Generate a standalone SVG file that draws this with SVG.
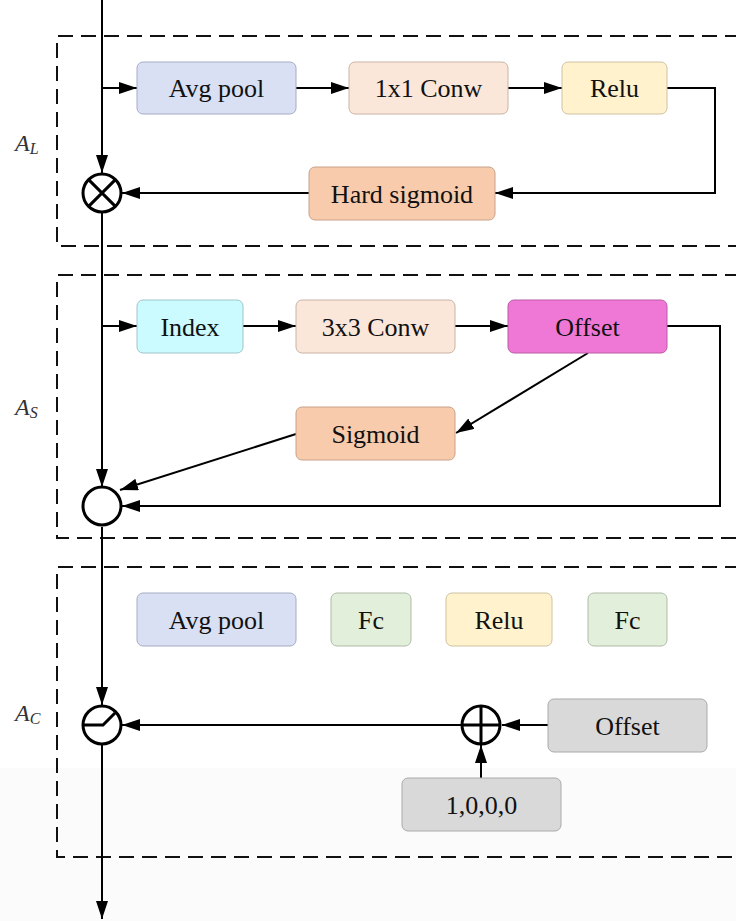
<svg xmlns="http://www.w3.org/2000/svg" width="736" height="921" viewBox="0 0 736 921">
  <defs>
    <marker id="arrow" viewBox="0 0 18 12" refX="18" refY="6" markerWidth="18" markerHeight="12" markerUnits="userSpaceOnUse" orient="auto">
      <path d="M0,0 L18,6 L0,12 Z" fill="#000"/>
    </marker>
    <style>
      .frame { fill: none; stroke: #111; stroke-width: 2; stroke-dasharray: 15 8; }
      .box { stroke-width: 1; }
      .lbl { font-family: "Liberation Serif", "Times New Roman", serif; font-size: 26px; fill: #111; text-anchor: middle; }
      .sec { font-family: "Liberation Serif", "Times New Roman", serif; font-style: italic; fill: #333; }
      .wire { fill: none; stroke: #000; stroke-width: 2; }
      .op { fill: #fff; stroke: #000; stroke-width: 3; }
      .sym { fill: none; stroke: #000; stroke-width: 3; }
    </style>
  </defs>

  <rect x="0" y="0" width="736" height="921" fill="#fff"/>
  <rect x="0" y="768" width="736" height="153" fill="#fbfbfb"/>

  <!-- section frames -->
  <g id="frames">
    <path class="frame" d="M740,36 H57 V246 H740"/>
    <path class="frame" d="M740,275 H57 V538 H740"/>
    <path class="frame" d="M740,567 H57 V857 H740"/>
  </g>

  <!-- section labels -->
  <g id="labels">
    <text class="sec" x="15" y="151" font-size="24">A<tspan font-size="16" dy="3">L</tspan></text>
    <text class="sec" x="15" y="415" font-size="24">A<tspan font-size="16" dy="3">S</tspan></text>
    <text class="sec" x="15" y="721" font-size="24">A<tspan font-size="16" dy="3">C</tspan></text>
  </g>

  <!-- connectors -->
  <g id="connectors">
    <!-- main trunk -->
    <line class="wire" x1="102" y1="0" x2="102" y2="173" marker-end="url(#arrow)"/>
    <line class="wire" x1="102" y1="213" x2="102" y2="487" marker-end="url(#arrow)"/>
    <line class="wire" x1="102" y1="527" x2="102" y2="705" marker-end="url(#arrow)"/>
    <line class="wire" x1="102" y1="745" x2="102" y2="919" marker-end="url(#arrow)"/>

    <!-- A_L -->
    <line class="wire" x1="102" y1="88" x2="137" y2="88" marker-end="url(#arrow)"/>
    <line class="wire" x1="296" y1="88" x2="349" y2="88" marker-end="url(#arrow)"/>
    <line class="wire" x1="508" y1="88" x2="562" y2="88" marker-end="url(#arrow)"/>
    <path class="wire" d="M667,88 H715 V193 H495" marker-end="url(#arrow)"/>
    <line class="wire" x1="309" y1="193" x2="122" y2="193" marker-end="url(#arrow)"/>

    <!-- A_S -->
    <line class="wire" x1="102" y1="326" x2="137" y2="326" marker-end="url(#arrow)"/>
    <line class="wire" x1="243" y1="326" x2="296" y2="326" marker-end="url(#arrow)"/>
    <line class="wire" x1="455" y1="326" x2="508" y2="326" marker-end="url(#arrow)"/>
    <line class="wire" x1="588" y1="353" x2="456" y2="433" marker-end="url(#arrow)"/>
    <line class="wire" x1="296" y1="434" x2="120" y2="490" marker-end="url(#arrow)"/>
    <path class="wire" d="M667,326 H720 V506 H122" marker-end="url(#arrow)"/>

    <!-- A_C -->
    <line class="wire" x1="548" y1="725" x2="502" y2="725" marker-end="url(#arrow)"/>
    <line class="wire" x1="481" y1="778" x2="481" y2="745" marker-end="url(#arrow)"/>
    <line class="wire" x1="461" y1="725" x2="122" y2="725" marker-end="url(#arrow)"/>
  </g>

  <!-- A_L nodes -->
  <g id="al-avgpool">
    <rect class="box" x="137" y="62" width="159" height="52" rx="6" fill="#dae0f3" stroke="#a5acc4"/>
    <text class="lbl" x="216.5" y="97">Avg pool</text>
  </g>
  <g id="al-conv1x1">
    <rect class="box" x="349" y="62" width="159" height="52" rx="6" fill="#fbe7da" stroke="#c9b3a6"/>
    <text class="lbl" x="428.5" y="97">1x1 Conw</text>
  </g>
  <g id="al-relu">
    <rect class="box" x="562" y="62" width="105" height="52" rx="6" fill="#fff2cd" stroke="#cdc2a0"/>
    <text class="lbl" x="614.5" y="97">Relu</text>
  </g>
  <g id="al-hardsigmoid">
    <rect class="box" x="309" y="167" width="186" height="53" rx="6" fill="#f8cbad" stroke="#c8a28a"/>
    <text class="lbl" x="402" y="202.5">Hard sigmoid</text>
  </g>
  <g id="al-multiply">
    <circle class="op" cx="102" cy="193" r="19"/>
    <path class="sym" d="M88.6,179.6 L115.4,206.4 M115.4,179.6 L88.6,206.4"/>
  </g>

  <!-- A_S nodes -->
  <g id="as-index">
    <rect class="box" x="137" y="300" width="106" height="53" rx="6" fill="#ccfbff" stroke="#9ec5c9"/>
    <text class="lbl" x="190" y="335.5">Index</text>
  </g>
  <g id="as-conv3x3">
    <rect class="box" x="296" y="300" width="159" height="53" rx="6" fill="#fbe7da" stroke="#c9b3a6"/>
    <text class="lbl" x="375.5" y="335.5">3x3 Conw</text>
  </g>
  <g id="as-offset">
    <rect class="box" x="508" y="300" width="159" height="53" rx="6" fill="#ef78d6" stroke="#b95aa6"/>
    <text class="lbl" x="587.5" y="335.5">Offset</text>
  </g>
  <g id="as-sigmoid">
    <rect class="box" x="296" y="407" width="159" height="53" rx="6" fill="#f8cbad" stroke="#c8a28a"/>
    <text class="lbl" x="375.5" y="442.5">Sigmoid</text>
  </g>
  <g id="as-combine">
    <circle class="op" cx="102" cy="506" r="19"/>
  </g>

  <!-- A_C nodes -->
  <g id="ac-avgpool">
    <rect class="box" x="137" y="593" width="159" height="53" rx="6" fill="#dae0f3" stroke="#a5acc4"/>
    <text class="lbl" x="216.5" y="628.5">Avg pool</text>
  </g>
  <g id="ac-fc1">
    <rect class="box" x="331" y="593" width="80" height="53" rx="6" fill="#e2efda" stroke="#b0bba9"/>
    <text class="lbl" x="371" y="628.5">Fc</text>
  </g>
  <g id="ac-relu">
    <rect class="box" x="446" y="593" width="106" height="53" rx="6" fill="#fff2cd" stroke="#cdc2a0"/>
    <text class="lbl" x="499" y="628.5">Relu</text>
  </g>
  <g id="ac-fc2">
    <rect class="box" x="588" y="593" width="79" height="53" rx="6" fill="#e2efda" stroke="#b0bba9"/>
    <text class="lbl" x="627.5" y="628.5">Fc</text>
  </g>
  <g id="ac-offset">
    <rect class="box" x="548" y="699" width="159" height="53" rx="6" fill="#d9d9d9" stroke="#aaaaaa"/>
    <text class="lbl" x="627.5" y="734.5">Offset</text>
  </g>
  <g id="ac-const">
    <rect class="box" x="402" y="778" width="159" height="53" rx="6" fill="#d9d9d9" stroke="#aaaaaa"/>
    <text class="lbl" x="481.5" y="813.5">1,0,0,0</text>
  </g>
  <g id="ac-add">
    <circle class="op" cx="481" cy="725" r="19"/>
    <path class="sym" d="M462,725 H500 M481,706 V744"/>
  </g>
  <g id="ac-switch">
    <circle class="op" cx="102" cy="725" r="19"/>
    <path class="sym" d="M83,725 H103 L115,713"/>
  </g>
</svg>
